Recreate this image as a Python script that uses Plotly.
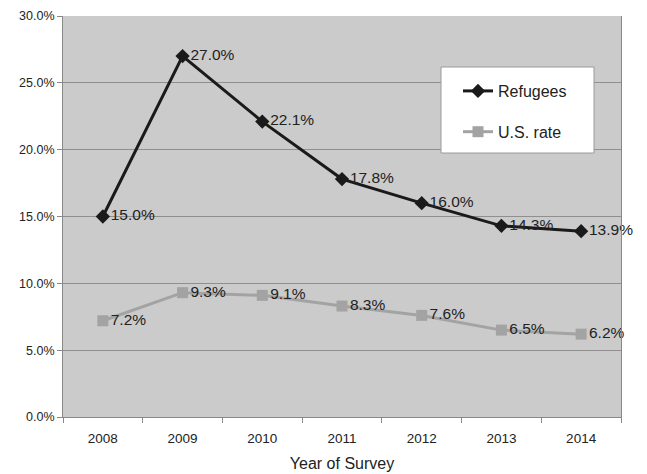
import plotly.graph_objects as go

years = ["2008", "2009", "2010", "2011", "2012", "2013", "2014"]
refugees = [15.0, 27.0, 22.1, 17.8, 16.0, 14.3, 13.9]
us_rate = [7.2, 9.3, 9.1, 8.3, 7.6, 6.5, 6.2]
y_ticks = [0, 5, 10, 15, 20, 25, 30]

FONT = "Liberation Sans, Arial"

fig = go.Figure()
fig.add_trace(go.Scatter(
    x=years, y=refugees, name="Refugees", mode="lines+markers+text",
    line=dict(color="#1a1a1a", width=3),
    marker=dict(symbol="diamond", size=11, color="#1a1a1a"),
    text=[f"{v:.1f}%" for v in refugees], textposition="middle right",
    textfont=dict(family=FONT, size=15.5, color="#222222"),
    legendgroup="a", cliponaxis=False,
))
fig.add_trace(go.Scatter(
    x=years, y=us_rate, name="U.S. rate", mode="lines+markers+text",
    line=dict(color="#a3a3a3", width=3),
    marker=dict(symbol="square", size=11, color="#a3a3a3"),
    text=[f"{v:.1f}%" for v in us_rate], textposition="middle right",
    textfont=dict(family=FONT, size=15.5, color="#222222"),
    legendgroup="b", cliponaxis=False,
))

fig.add_shape(type="rect", xref="paper", yref="paper",
              x0=(441 - 63) / 558, x1=(594 - 63) / 558,
              y0=(417 - 153) / 401, y1=(417 - 67) / 401,
              fillcolor="white", line=dict(color="#9a9a9a", width=1), layer="above")

fig.update_layout(
    width=647, height=474,
    margin=dict(l=63, r=26, t=16, b=57),
    paper_bgcolor="white", plot_bgcolor="#cbcbcb",
    font=dict(family=FONT, size=13, color="#222222"),
    showlegend=True,
    legend=dict(x=(458 - 63) / 558, y=(417 - 74) / 401, xanchor="left", yanchor="top",
                bgcolor="rgba(0,0,0,0)", borderwidth=0,
                font=dict(size=16, color="#222222"),
                traceorder="grouped", tracegroupgap=17),
    xaxis=dict(
        type="category", tickson="boundaries", ticks="outside", ticklen=5,
        tickcolor="#888888", showline=True, linecolor="#888888", linewidth=1,
        showgrid=False, title=dict(text="Year of Survey", font=dict(size=16), standoff=12),
        tickfont=dict(size=13.5), range=[-0.5, 6.5], ticklabelstandoff=9,
        automargin=False,
    ),
    yaxis=dict(
        range=[0, 30], tickvals=y_ticks, ticktext=[f"{v:.1f}%" for v in y_ticks],
        ticks="outside", ticklen=5, tickcolor="#888888",
        showline=True, linecolor="#888888", mirror=True, linewidth=1,
        showgrid=True, gridcolor="#8f8f8f", gridwidth=1, zeroline=False,
        tickfont=dict(size=12.5), automargin=False,
    ),
)

fig.write_html("out.html")
